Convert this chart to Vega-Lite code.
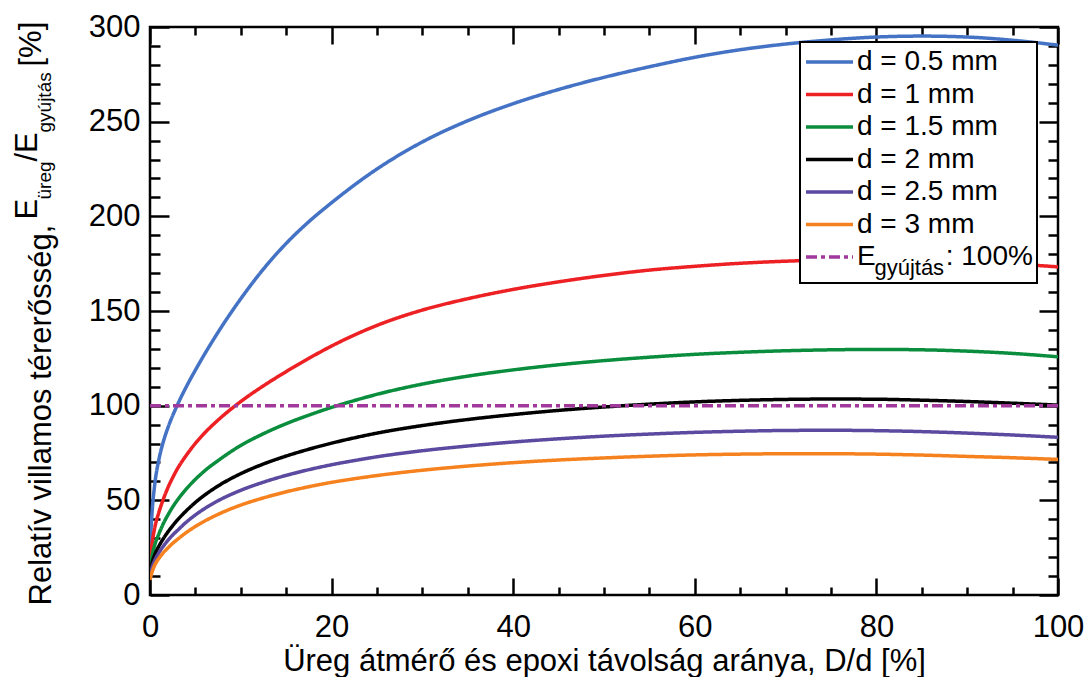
{
  "$schema": "https://vega.github.io/schema/vega-lite/v6.json",
  "width": 908,
  "height": 568,
  "autosize": {"type": "none"},
  "padding": {"left": 150, "top": 27, "right": 29, "bottom": 82},
  "background": "white",
  "config": {
    "view": {"stroke": "black", "strokeWidth": 2.5},
    "axis": {"grid": false, "domain": false, "labelFlush": false, "labelFont": "Liberation Sans", "titleFont": "Liberation Sans", "labelColor": "black", "titleColor": "black", "tickColor": "black", "tickWidth": 2.5, "titleFontWeight": "normal"},
    "legend": {"strokeWidth": 2}
  },
  "data": {"values": [
    {"s":"d = 0.5 mm","x":0,"y":20},{"s":"d = 0.5 mm","x":0.1,"y":33},{"s":"d = 0.5 mm","x":0.25,"y":45},{"s":"d = 0.5 mm","x":0.5,"y":57.5},{"s":"d = 0.5 mm","x":1,"y":72},{"s":"d = 0.5 mm","x":1.5,"y":81.5},{"s":"d = 0.5 mm","x":2,"y":88.7},{"s":"d = 0.5 mm","x":3,"y":100.2},{"s":"d = 0.5 mm","x":4,"y":110},{"s":"d = 0.5 mm","x":5,"y":118.8},{"s":"d = 0.5 mm","x":7.5,"y":138.8},{"s":"d = 0.5 mm","x":10,"y":156.5},{"s":"d = 0.5 mm","x":12.5,"y":172.2},{"s":"d = 0.5 mm","x":15,"y":185.7},{"s":"d = 0.5 mm","x":17.5,"y":197.2},{"s":"d = 0.5 mm","x":20,"y":207.2},{"s":"d = 0.5 mm","x":25,"y":225},{"s":"d = 0.5 mm","x":30,"y":239.3},{"s":"d = 0.5 mm","x":35,"y":250.5},{"s":"d = 0.5 mm","x":40,"y":259.5},{"s":"d = 0.5 mm","x":45,"y":267},{"s":"d = 0.5 mm","x":50,"y":273.4},{"s":"d = 0.5 mm","x":55,"y":279},{"s":"d = 0.5 mm","x":60,"y":284},{"s":"d = 0.5 mm","x":65,"y":288},{"s":"d = 0.5 mm","x":70,"y":291},{"s":"d = 0.5 mm","x":75,"y":293.2},{"s":"d = 0.5 mm","x":80,"y":294.7},{"s":"d = 0.5 mm","x":85,"y":295.2},{"s":"d = 0.5 mm","x":90,"y":294.7},{"s":"d = 0.5 mm","x":95,"y":293},{"s":"d = 0.5 mm","x":100,"y":290.4},
    {"s":"d = 1 mm","x":0,"y":16},{"s":"d = 1 mm","x":0.1,"y":22},{"s":"d = 1 mm","x":0.25,"y":28},{"s":"d = 1 mm","x":0.5,"y":35},{"s":"d = 1 mm","x":1,"y":44},{"s":"d = 1 mm","x":1.5,"y":51},{"s":"d = 1 mm","x":2,"y":57},{"s":"d = 1 mm","x":2.5,"y":62},{"s":"d = 1 mm","x":3,"y":66.5},{"s":"d = 1 mm","x":4,"y":73.8},{"s":"d = 1 mm","x":5,"y":80.1},{"s":"d = 1 mm","x":6,"y":85.5},{"s":"d = 1 mm","x":7.5,"y":92.4},{"s":"d = 1 mm","x":10,"y":102.2},{"s":"d = 1 mm","x":12.5,"y":110.5},{"s":"d = 1 mm","x":15,"y":118},{"s":"d = 1 mm","x":17.5,"y":125},{"s":"d = 1 mm","x":20,"y":131.5},{"s":"d = 1 mm","x":22.5,"y":137.3},{"s":"d = 1 mm","x":25,"y":142.4},{"s":"d = 1 mm","x":30,"y":150.5},{"s":"d = 1 mm","x":35,"y":156.5},{"s":"d = 1 mm","x":40,"y":161.4},{"s":"d = 1 mm","x":45,"y":165.4},{"s":"d = 1 mm","x":50,"y":168.8},{"s":"d = 1 mm","x":55,"y":171.6},{"s":"d = 1 mm","x":60,"y":173.6},{"s":"d = 1 mm","x":65,"y":175.2},{"s":"d = 1 mm","x":70,"y":176.3},{"s":"d = 1 mm","x":75,"y":177},{"s":"d = 1 mm","x":80,"y":177.2},{"s":"d = 1 mm","x":85,"y":176.9},{"s":"d = 1 mm","x":90,"y":176.1},{"s":"d = 1 mm","x":95,"y":174.9},{"s":"d = 1 mm","x":100,"y":173.3},
    {"s":"d = 1.5 mm","x":0,"y":13},{"s":"d = 1.5 mm","x":0.1,"y":16.5},{"s":"d = 1.5 mm","x":0.25,"y":21},{"s":"d = 1.5 mm","x":0.5,"y":26},{"s":"d = 1.5 mm","x":1,"y":32.5},{"s":"d = 1.5 mm","x":1.5,"y":38},{"s":"d = 1.5 mm","x":2,"y":42.5},{"s":"d = 1.5 mm","x":2.5,"y":46.5},{"s":"d = 1.5 mm","x":3,"y":50},{"s":"d = 1.5 mm","x":4,"y":56},{"s":"d = 1.5 mm","x":5,"y":61.1},{"s":"d = 1.5 mm","x":6,"y":65.5},{"s":"d = 1.5 mm","x":7.5,"y":71},{"s":"d = 1.5 mm","x":10,"y":79},{"s":"d = 1.5 mm","x":12.5,"y":85.2},{"s":"d = 1.5 mm","x":15,"y":90.5},{"s":"d = 1.5 mm","x":17.5,"y":95},{"s":"d = 1.5 mm","x":20,"y":99.1},{"s":"d = 1.5 mm","x":22.5,"y":102.7},{"s":"d = 1.5 mm","x":25,"y":106},{"s":"d = 1.5 mm","x":30,"y":111.4},{"s":"d = 1.5 mm","x":35,"y":115.6},{"s":"d = 1.5 mm","x":40,"y":118.9},{"s":"d = 1.5 mm","x":45,"y":121.6},{"s":"d = 1.5 mm","x":50,"y":123.8},{"s":"d = 1.5 mm","x":55,"y":125.6},{"s":"d = 1.5 mm","x":60,"y":127.1},{"s":"d = 1.5 mm","x":65,"y":128.2},{"s":"d = 1.5 mm","x":70,"y":129},{"s":"d = 1.5 mm","x":75,"y":129.5},{"s":"d = 1.5 mm","x":80,"y":129.7},{"s":"d = 1.5 mm","x":85,"y":129.5},{"s":"d = 1.5 mm","x":90,"y":128.8},{"s":"d = 1.5 mm","x":95,"y":127.6},{"s":"d = 1.5 mm","x":100,"y":125.8},
    {"s":"d = 2 mm","x":0,"y":12},{"s":"d = 2 mm","x":0.1,"y":14.5},{"s":"d = 2 mm","x":0.25,"y":17.5},{"s":"d = 2 mm","x":0.5,"y":21},{"s":"d = 2 mm","x":1,"y":26},{"s":"d = 2 mm","x":1.5,"y":30},{"s":"d = 2 mm","x":2,"y":33.5},{"s":"d = 2 mm","x":2.5,"y":36.6},{"s":"d = 2 mm","x":3,"y":39.5},{"s":"d = 2 mm","x":4,"y":44.5},{"s":"d = 2 mm","x":5,"y":48.9},{"s":"d = 2 mm","x":6,"y":52.7},{"s":"d = 2 mm","x":7.5,"y":57.6},{"s":"d = 2 mm","x":10,"y":64.1},{"s":"d = 2 mm","x":12.5,"y":69.2},{"s":"d = 2 mm","x":15,"y":73.4},{"s":"d = 2 mm","x":17.5,"y":77},{"s":"d = 2 mm","x":20,"y":80.2},{"s":"d = 2 mm","x":22.5,"y":83},{"s":"d = 2 mm","x":25,"y":85.5},{"s":"d = 2 mm","x":30,"y":89.5},{"s":"d = 2 mm","x":35,"y":92.7},{"s":"d = 2 mm","x":40,"y":95.3},{"s":"d = 2 mm","x":45,"y":97.5},{"s":"d = 2 mm","x":50,"y":99.3},{"s":"d = 2 mm","x":55,"y":100.8},{"s":"d = 2 mm","x":60,"y":102},{"s":"d = 2 mm","x":65,"y":102.8},{"s":"d = 2 mm","x":70,"y":103.3},{"s":"d = 2 mm","x":75,"y":103.5},{"s":"d = 2 mm","x":80,"y":103.4},{"s":"d = 2 mm","x":85,"y":102.9},{"s":"d = 2 mm","x":90,"y":102.2},{"s":"d = 2 mm","x":95,"y":101.3},{"s":"d = 2 mm","x":100,"y":100.3},
    {"s":"d = 2.5 mm","x":0,"y":10},{"s":"d = 2.5 mm","x":0.1,"y":12},{"s":"d = 2.5 mm","x":0.25,"y":15},{"s":"d = 2.5 mm","x":0.5,"y":18},{"s":"d = 2.5 mm","x":1,"y":22.5},{"s":"d = 2.5 mm","x":1.5,"y":26},{"s":"d = 2.5 mm","x":2,"y":29},{"s":"d = 2.5 mm","x":2.5,"y":31.7},{"s":"d = 2.5 mm","x":3,"y":34},{"s":"d = 2.5 mm","x":4,"y":38.5},{"s":"d = 2.5 mm","x":5,"y":42.3},{"s":"d = 2.5 mm","x":6,"y":45.6},{"s":"d = 2.5 mm","x":7.5,"y":49.8},{"s":"d = 2.5 mm","x":10,"y":55.3},{"s":"d = 2.5 mm","x":12.5,"y":59.6},{"s":"d = 2.5 mm","x":15,"y":63.2},{"s":"d = 2.5 mm","x":17.5,"y":66.2},{"s":"d = 2.5 mm","x":20,"y":68.8},{"s":"d = 2.5 mm","x":22.5,"y":71},{"s":"d = 2.5 mm","x":25,"y":73},{"s":"d = 2.5 mm","x":30,"y":76.2},{"s":"d = 2.5 mm","x":35,"y":78.7},{"s":"d = 2.5 mm","x":40,"y":80.8},{"s":"d = 2.5 mm","x":45,"y":82.5},{"s":"d = 2.5 mm","x":50,"y":83.9},{"s":"d = 2.5 mm","x":55,"y":85},{"s":"d = 2.5 mm","x":60,"y":85.9},{"s":"d = 2.5 mm","x":65,"y":86.5},{"s":"d = 2.5 mm","x":70,"y":86.9},{"s":"d = 2.5 mm","x":75,"y":87},{"s":"d = 2.5 mm","x":80,"y":86.8},{"s":"d = 2.5 mm","x":85,"y":86.3},{"s":"d = 2.5 mm","x":90,"y":85.5},{"s":"d = 2.5 mm","x":95,"y":84.5},{"s":"d = 2.5 mm","x":100,"y":83.3},
    {"s":"d = 3 mm","x":0,"y":8},{"s":"d = 3 mm","x":0.1,"y":10},{"s":"d = 3 mm","x":0.25,"y":12.5},{"s":"d = 3 mm","x":0.5,"y":15.5},{"s":"d = 3 mm","x":1,"y":19.5},{"s":"d = 3 mm","x":1.5,"y":22.5},{"s":"d = 3 mm","x":2,"y":25},{"s":"d = 3 mm","x":2.5,"y":27.3},{"s":"d = 3 mm","x":3,"y":29.3},{"s":"d = 3 mm","x":4,"y":33},{"s":"d = 3 mm","x":5,"y":36.2},{"s":"d = 3 mm","x":6,"y":39},{"s":"d = 3 mm","x":7.5,"y":42.6},{"s":"d = 3 mm","x":10,"y":47.5},{"s":"d = 3 mm","x":12.5,"y":51.3},{"s":"d = 3 mm","x":15,"y":54.5},{"s":"d = 3 mm","x":17.5,"y":57.2},{"s":"d = 3 mm","x":20,"y":59.5},{"s":"d = 3 mm","x":22.5,"y":61.4},{"s":"d = 3 mm","x":25,"y":63.1},{"s":"d = 3 mm","x":30,"y":65.9},{"s":"d = 3 mm","x":35,"y":68.1},{"s":"d = 3 mm","x":40,"y":69.9},{"s":"d = 3 mm","x":45,"y":71.3},{"s":"d = 3 mm","x":50,"y":72.4},{"s":"d = 3 mm","x":55,"y":73.3},{"s":"d = 3 mm","x":60,"y":74},{"s":"d = 3 mm","x":65,"y":74.4},{"s":"d = 3 mm","x":70,"y":74.6},{"s":"d = 3 mm","x":75,"y":74.6},{"s":"d = 3 mm","x":80,"y":74.4},{"s":"d = 3 mm","x":85,"y":73.9},{"s":"d = 3 mm","x":90,"y":73.2},{"s":"d = 3 mm","x":95,"y":72.5},{"s":"d = 3 mm","x":100,"y":71.6},
    {"s":"E gyújtás: 100%","x":0,"y":100},{"s":"E gyújtás: 100%","x":100,"y":100}
  ]},
  "resolve": {"axis": {"x": "independent", "y": "independent"}},
  "layer": [
    {
      "mark": {"type": "line", "interpolate": "monotone", "clip": true},
      "encoding": {
        "x": {"field": "x", "type": "quantitative", "scale": {"domain": [0, 100], "nice": false},
          "axis": {"orient": "bottom", "values": [0, 20, 40, 60, 80, 100], "ticks": false, "labelFontSize": 31, "labelPadding": 41, "labelBaseline": "alphabetic",
            "title": "Üreg átmérő és epoxi távolság aránya, D/d [%]", "titleFontSize": 31, "titleY": 75, "titleBaseline": "alphabetic"}},
        "y": {"field": "y", "type": "quantitative", "scale": {"domain": [0, 300], "nice": false},
          "axis": {"orient": "left", "values": [0, 50, 100, 150, 200, 250, 300], "ticks": false, "labelFontSize": 31, "labelPadding": 10,
            "title": "Relatív villamos térerősség,", "titleFontSize": 31, "titleAngle": 270, "titleAlign": "left", "titleBaseline": "alphabetic", "titleX": -100, "titleY": 578}},
        "color": {"field": "s", "type": "nominal",
          "scale": {"domain": ["d = 0.5 mm", "d = 1 mm", "d = 1.5 mm", "d = 2 mm", "d = 2.5 mm", "d = 3 mm", "E gyújtás: 100%"],
            "range": ["#4472c4", "#ed2024", "#0a8e3e", "#000000", "#5b4a9f", "#f5821f", "#a0399b"]},
          "legend": {"orient": "none", "legendX": 650, "legendY": 15, "symbolType": "stroke", "symbolSize": 2209, "symbolStrokeWidth": 3.5,
            "labelFontSize": 28, "labelFont": "Liberation Sans", "labelColor": "black", "labelOffset": 2, "labelLimit": 400, "clipHeight": 32, "rowPadding": 0.5, "padding": 4,
            "strokeColor": "black", "fillColor": "white",
            "title": "\u200b\u2003\u2003\u2003\u2009gyújtás", "titleOrient": "bottom", "titleFont": "Liberation Sans", "titleFontSize": 22, "titleFontWeight": "normal", "titleColor": "black",
            "titleAnchor": "start", "titleAlign": "left", "titleBaseline": "top", "titlePadding": -15, "titleLimit": 400,
            "labelExpr": "datum.label == 'E gyújtás: 100%' ? 'E\u2003\u2003\u2002: 100%' : datum.label"}},
        "strokeDash": {"field": "s", "type": "nominal",
          "scale": {"domain": ["d = 0.5 mm", "d = 1 mm", "d = 1.5 mm", "d = 2 mm", "d = 2.5 mm", "d = 3 mm", "E gyújtás: 100%"],
            "range": [[1, 0], [1, 0], [1, 0], [1, 0], [1, 0], [1, 0], [11, 4, 4, 4]]}},
        "strokeWidth": {"field": "s", "type": "nominal", "legend": null,
          "scale": {"domain": ["d = 0.5 mm", "d = 1 mm", "d = 1.5 mm", "d = 2 mm", "d = 2.5 mm", "d = 3 mm", "E gyújtás: 100%"],
            "range": [3.5, 3.5, 3.5, 3.5, 3.5, 3.5, 4.2]}}
      }
    },
    {
      "mark": {"type": "point", "opacity": 0},
      "encoding": {
        "x": {"field": "x", "type": "quantitative",
          "axis": {"orient": "bottom", "values": [0, 20, 40, 60, 80, 100], "labels": false, "tickSize": -17,
            "title": "[%]", "titleFontSize": 31, "titleAngle": 270, "titleAlign": "left", "titleBaseline": "alphabetic", "titleX": -110, "titleY": -529}},
        "y": {"field": "y", "type": "quantitative",
          "axis": {"orient": "left", "values": [0, 50, 100, 150, 200, 250, 300], "labels": false, "tickSize": -19,
            "title": "E", "titleFontSize": 31, "titleAngle": 270, "titleAlign": "left", "titleBaseline": "alphabetic", "titleX": -114, "titleY": 192}}
      }
    },
    {
      "mark": {"type": "point", "opacity": 0},
      "encoding": {
        "x": {"field": "x", "type": "quantitative",
          "axis": {"orient": "bottom", "values": [5, 10, 15, 25, 30, 35, 45, 50, 55, 65, 70, 75, 85, 90, 95], "labels": false, "tickSize": -8, "title": null}},
        "y": {"field": "y", "type": "quantitative",
          "axis": {"orient": "left", "values": [10, 20, 30, 40, 60, 70, 80, 90, 110, 120, 130, 140, 160, 170, 180, 190, 210, 220, 230, 240, 260, 270, 280, 290], "labels": false, "tickSize": -10,
            "title": "üreg", "titleFontSize": 19, "titleAngle": 270, "titleAlign": "left", "titleBaseline": "alphabetic", "titleX": -100, "titleY": 172}}
      }
    },
    {
      "mark": {"type": "point", "opacity": 0},
      "encoding": {
        "x": {"field": "x", "type": "quantitative",
          "axis": {"orient": "top", "values": [0, 20, 40, 60, 80, 100], "labels": false, "tickSize": -17, "title": null}},
        "y": {"field": "y", "type": "quantitative",
          "axis": {"orient": "right", "values": [0, 50, 100, 150, 200, 250, 300], "labels": false, "tickSize": -19,
            "title": "/E", "titleFontSize": 31, "titleAngle": 270, "titleAlign": "left", "titleBaseline": "alphabetic", "titleX": -1022, "titleY": 134}}
      }
    },
    {
      "mark": {"type": "point", "opacity": 0},
      "encoding": {
        "x": {"field": "x", "type": "quantitative",
          "axis": {"orient": "top", "values": [5, 10, 15, 25, 30, 35, 45, 50, 55, 65, 70, 75, 85, 90, 95], "labels": false, "tickSize": -8, "title": null}},
        "y": {"field": "y", "type": "quantitative",
          "axis": {"orient": "right", "values": [10, 20, 30, 40, 60, 70, 80, 90, 110, 120, 130, 140, 160, 170, 180, 190, 210, 220, 230, 240, 260, 270, 280, 290], "labels": false, "tickSize": -10,
            "title": "gyújtás", "titleFontSize": 19, "titleAngle": 270, "titleAlign": "left", "titleBaseline": "alphabetic", "titleX": -1008, "titleY": 105}}
      }
    }
  ]
}
